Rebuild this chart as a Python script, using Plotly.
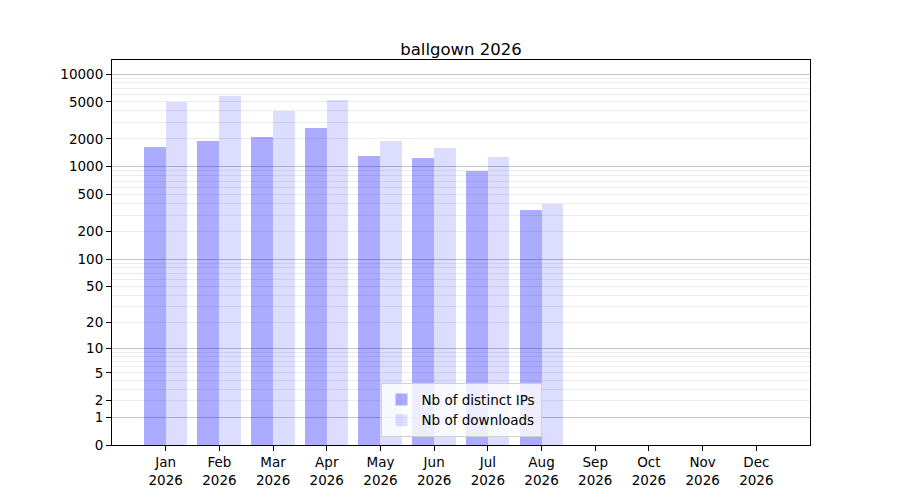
import numpy as np
import plotly.graph_objects as go

months = ["Jan", "Feb", "Mar", "Apr", "May", "Jun",
          "Jul", "Aug", "Sep", "Oct", "Nov", "Dec"]
year = "2026"
distinct_ips = [1633, 1895, 2093, 2617, 1305, 1243, 900, 341, None, None, None, None]
downloads = [4990, 5834, 3993, 5245, 1890, 1593, 1274, 396, None, None, None, None]

tick_values = [0, 1, 2, 5, 10, 20, 50, 100, 200, 500, 1000, 2000, 5000, 10000]
decades = [1, 10, 100, 1000, 10000]
minor_values = [m * d for d in decades[:-1] for m in range(2, 10)]


def f(v):
    # symlog-ish scale: log10(1 + x)
    return [None if x is None else float(np.log10(1 + x)) for x in v]


cats = [m + "<br>" + year for m in months]
y_range = [0, 4.151]

fig = go.Figure()
fig.add_trace(go.Bar(x=cats, y=f(distinct_ips), name="Nb of distinct IPs",
                     marker=dict(color="rgba(0,0,255,0.33)", line_width=0),
                     width=0.41, offset=-0.41))
fig.add_trace(go.Bar(x=cats, y=f(downloads), name="Nb of downloads",
                     marker=dict(color="rgba(0,0,255,0.135)", line_width=0),
                     width=0.40, offset=0))
# empty trace so the decade grid axis gets drawn
fig.add_trace(go.Scatter(x=[cats[0]], y=[None], yaxis="y2", showlegend=False,
                         hoverinfo="skip"))

font = "DejaVu Sans, Verdana, sans-serif"
fig.update_layout(
    width=900, height=500,
    paper_bgcolor="white", plot_bgcolor="white",
    # page body has an 8px margin, so shift everything up/left
    margin=dict(l=104, r=98, t=52, b=63),
    font=dict(family=font, size=13.5, color="black"),
    title=dict(text="ballgown 2026", x=0.5, xref="paper", xanchor="center",
               y=1, yref="paper", yanchor="bottom", pad=dict(b=5),
               font=dict(size=16.5)),
    bargap=0,
    showlegend=True,
    legend=dict(x=0.5, xanchor="center", y=0.02, yanchor="bottom",
                bgcolor="rgba(255,255,255,0.8)", bordercolor="#d0d0d0",
                borderwidth=1, font=dict(size=13.5)),
    xaxis=dict(type="category", range=[-1.0, 12.0], tickmode="array",
               tickvals=cats, ticktext=cats, showgrid=False,
               showline=True, linecolor="black", linewidth=1, mirror=True,
               ticks="outside", ticklen=5, tickcolor="black", zeroline=False),
    yaxis=dict(range=y_range, tickmode="array", tickvals=f(tick_values),
               ticktext=[str(t) for t in tick_values],
               showgrid=True, gridcolor="#ececec", gridwidth=1,
               minor=dict(tickmode="array", tickvals=f(minor_values),
                          showgrid=True, gridcolor="#ececec", gridwidth=1,
                          ticks=""),
               showline=True, linecolor="black", linewidth=1, mirror=True,
               ticks="outside", ticklen=5, tickcolor="black", zeroline=False),
    yaxis2=dict(range=y_range, overlaying="y", tickmode="array",
                tickvals=f(decades), showticklabels=False, ticks="",
                showgrid=True, gridcolor="#c4c4c4", gridwidth=1,
                showline=False, zeroline=False),
)

fig.write_html("out.html")
